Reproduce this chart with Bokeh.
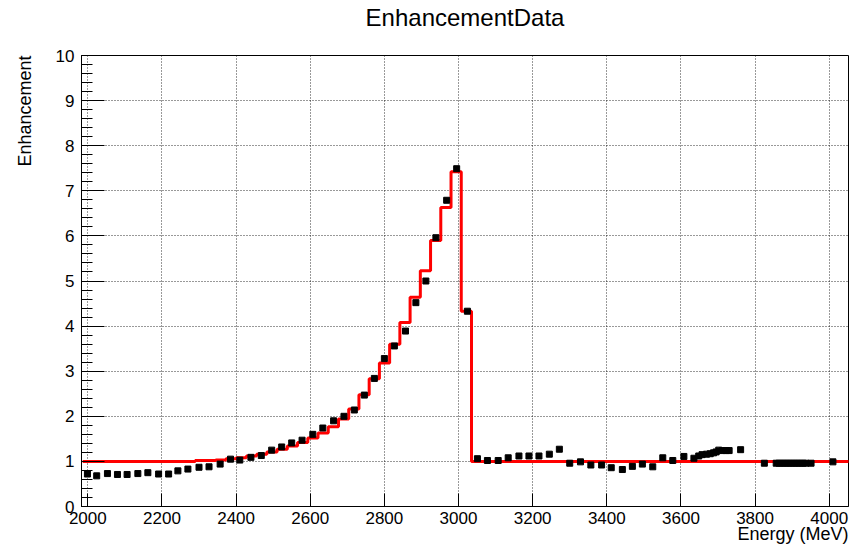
from bokeh.plotting import figure
from bokeh.models import FixedTicker, Range1d, Title
from bokeh.embed import file_html
from bokeh.resources import INLINE

# ---- data ----
energy = [1999, 2024, 2053, 2080, 2106, 2135, 2162, 2191, 2218, 2243,
          2270, 2300, 2327, 2357, 2385, 2410, 2440, 2468, 2496, 2523,
          2550, 2578, 2607, 2634, 2663, 2691, 2719, 2746, 2773, 2800,
          2827, 2857, 2885, 2912, 2939, 2968, 2995, 3024, 3051, 3078,
          3107, 3134, 3163, 3190, 3217, 3245, 3272, 3300, 3329, 3357,
          3386, 3412, 3442, 3469, 3496, 3524, 3551, 3578, 3608, 3635,
          3648, 3657, 3669, 3679, 3688, 3695, 3702, 3712, 3722, 3730,
          3761, 3825, 3857, 3865, 3873, 3881, 3889, 3897, 3905, 3913,
          3921, 3929, 3937, 3951, 4010]
enhancement = [0.72, 0.68, 0.73, 0.71, 0.71, 0.73, 0.75, 0.72, 0.72, 0.79,
               0.83, 0.87, 0.88, 0.94, 1.05, 1.03, 1.09, 1.13, 1.25, 1.32,
               1.41, 1.47, 1.60, 1.74, 1.90, 2.00, 2.14, 2.47, 2.84, 3.28,
               3.56, 3.89, 4.52, 5.00, 5.96, 6.79, 7.49, 4.33, 1.06, 1.02,
               1.02, 1.08, 1.12, 1.12, 1.12, 1.16, 1.27, 0.96, 0.99, 0.92,
               0.92, 0.86, 0.82, 0.89, 0.94, 0.88, 1.08, 1.02, 1.11, 1.07,
               1.12, 1.15, 1.16, 1.17, 1.19, 1.21, 1.25, 1.24, 1.24, 1.24,
               1.26, 0.96, 0.96, 0.96, 0.96, 0.96, 0.96, 0.96, 0.96, 0.96,
               0.96, 0.96, 0.96, 0.96, 0.99]

hist_lo = 1986.2
hist_bin = 27.6
hist_values = [1.00, 1.00, 1.00, 1.00, 1.00, 1.00, 1.00, 1.00, 1.00, 1.00,
               1.00, 1.02, 1.02, 1.03, 1.06, 1.08, 1.12, 1.16, 1.21, 1.27,
               1.34, 1.42, 1.52, 1.63, 1.77, 1.94, 2.16, 2.48, 2.83, 3.18,
               3.60, 4.08, 4.64, 5.23, 5.90, 6.63, 7.42, 4.33, 1.00, 1.00,
               1.00, 1.00, 1.00, 1.00, 1.00, 1.00, 1.00, 1.00, 1.00, 1.00,
               1.00, 1.00, 1.00, 1.00, 1.00, 1.00, 1.00, 1.00, 1.00, 1.00,
               1.00, 1.00, 1.00, 1.00, 1.00, 1.00, 1.00, 1.00, 1.00, 1.00,
               1.00, 1.00, 1.00, 1.00, 1.00]

x_ticks = [2000, 2200, 2400, 2600, 2800, 3000, 3200, 3400, 3600, 3800, 4000]
y_ticks = [0, 1, 2, 3, 4, 5, 6, 7, 8, 9, 10]

title_text = "EnhancementData"
x_label = "Energy (MeV)"
y_label = "Enhancement"

# ---- build ----
edges = [hist_lo + hist_bin * i for i in range(len(hist_values) + 1)]
step_y = hist_values + [hist_values[-1]]

FONT = "Liberation Sans"

p = figure(width=861, height=549, output_backend="svg", toolbar_location=None,
           x_range=Range1d(1983, 4052), y_range=Range1d(0, 10),
           min_border_left=81, min_border_right=13,
           min_border_top=55, min_border_bottom=43)
p.background_fill_color = "white"
p.border_fill_color = "white"
p.outline_line_color = "black"
p.outline_line_width = 1

p.step(edges, step_y, mode="after", line_color="#ff0000", line_width=3)
p.scatter(energy, enhancement, marker="square", size=6,
          fill_color="black", line_color="black")

xt = FixedTicker(ticks=x_ticks, minor_ticks=[])
yt = FixedTicker(ticks=y_ticks, minor_ticks=[round(0.2 * i, 1) for i in range(51)])
p.xaxis.ticker = xt
p.yaxis.ticker = yt
p.xgrid.ticker = xt
p.ygrid.ticker = yt
for g in (p.xgrid, p.ygrid):
    g.grid_line_color = "black"
    g.grid_line_dash = "1 2"
    g.grid_line_width = 1
    g.grid_line_alpha = 0.8

for ax in (p.xaxis, p.yaxis):
    ax.axis_line_color = "black"
    ax.major_tick_line_color = "black"
    ax.minor_tick_line_color = "black"
    ax.major_tick_out = 0
    ax.minor_tick_out = 0
    ax.major_label_text_font = FONT
    ax.major_label_text_font_size = "17px"
    ax.major_label_text_color = "black"

p.xaxis.major_tick_in = 13
p.xaxis.minor_tick_in = 0
p.xaxis.major_label_standoff = 5

p.yaxis.major_tick_in = 23
p.yaxis.minor_tick_in = 11
p.yaxis.major_label_standoff = 7


def text_title(txt, size, **kw):
    return Title(text=txt, text_font=FONT, text_font_size=size,
                 text_font_style="normal", text_color="black", **kw)


# title (a thin spacer keeps it away from the frame, as in the reference)
p.add_layout(Title(text=" ", text_font_size="1px", standoff=22), "above")
p.add_layout(text_title(title_text, "24px", align="center",
                        vertical_align="bottom", standoff=0), "above")

# y axis label, flush with the top of the axis
p.add_layout(Title(text=" ", text_font_size="1px", standoff=15), "left")
p.add_layout(text_title(y_label, "18px", align="right",
                        vertical_align="bottom", standoff=0), "left")

# x axis label, flush with the right end of the axis
p.add_layout(text_title(x_label, "18px", align="right",
                        vertical_align="top", standoff=-5), "below")

open("out.html", "w").write(file_html(p, INLINE))
